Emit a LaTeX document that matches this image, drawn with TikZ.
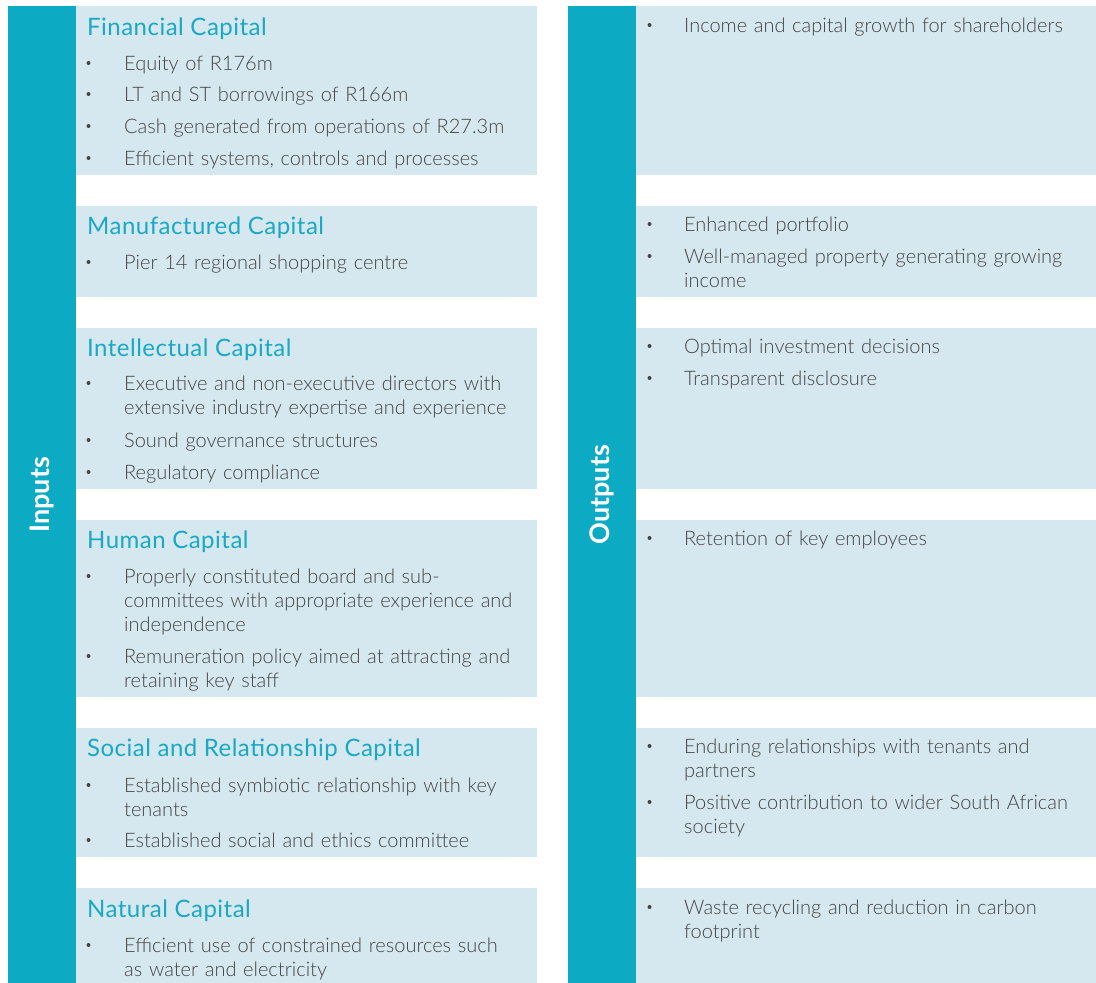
\documentclass[tikz,border=0pt]{standalone}
\usepackage{fontspec}
\setmainfont{Lato}[UprightFont={* Light},BoldFont={* Bold}]
\newfontfamily\headfont{Lato}[LetterSpace=2.0]
\definecolor{band}{HTML}{0DAAC4}
\definecolor{panel}{HTML}{D5E8EF}
\definecolor{head}{HTML}{1BA8C4}
\definecolor{ink}{HTML}{444444}

\begin{document}
\begin{tikzpicture}[x=1pt,y=-1pt,
  text=ink,
  band/.style={fill=band,draw=none,anchor=north west,inner sep=0pt,
    minimum width=68pt,minimum height=977pt},
  bandtext/.style={rotate=90,text=white,font=\bfseries\fontsize{27}{27}\selectfont},
  panel/.style={fill=panel,draw=none,anchor=north west,inner sep=0pt},
  heading/.style={anchor=base west,inner sep=0pt,text=head,
    font=\headfont\fontsize{24}{24}\selectfont},
  item/.style={anchor=base west,inner sep=0pt,text width=420pt,align=left,
    font=\fontsize{20}{24}\selectfont},
  dot/.style={circle,fill=ink,inner sep=0pt,minimum size=4pt}
]
  \useasboundingbox (0,0) rectangle (1096,983);

  % side bands
  \node[band] (inbar) at (8,6) {};
  \node[band] (outbar) at (568,6) {};
  \node[bandtext] (inlabel) at (inbar.center) {Inputs};
  \node[bandtext] (outlabel) at (outbar.center) {Outputs};

  % one row of panels per capital
  \foreach \top/\bot/\name in {6/175/fin,206/297/man,328/489/int,
      520/697/hum,728/857/soc,888/983/nat}{
    \node[panel,minimum width=461pt,minimum height={\bot-\top}]
      (\name-in) at (76,\top) {};
    \node[panel,minimum width=460pt,minimum height={\bot-\top}]
      (\name-out) at (636,\top) {};
  }

  % titles
  \foreach \y/\name/\title in {35/fin/Financial Capital,
      234/man/Manufactured Capital,356/int/Intellectual Capital,
      548/hum/Human Capital,756/soc/Social and Relationship Capital,
      917/nat/Natural Capital}{
    \node[heading] (\name-title) at (87,\y) {\title};
  }

  % input items
  \foreach \y/\txt [count=\i] in {
      70/{Equity of R176m},
      101/{LT and ST borrowings of R166m},
      133/{Cash generated from operations of R27.3m},
      165/{Efficient systems, controls and processes},
      269/{Pier 14 regional shopping centre},
      390/{Executive and non-executive directors with\\extensive industry expertise and experience},
      447/{Sound governance structures},
      479/{Regulatory compliance},
      583/{Properly constituted board and sub-\\committees with appropriate experience and\\independence},
      663/{Remuneration policy aimed at attracting and\\retaining key staff},
      792/{Established symbiotic relationship with key\\tenants},
      847/{Established social and ethics committee},
      952/{Efficient use of constrained resources such\\as water and electricity}}{
    \node[dot] (in-dot\i) at (88.5,\y-7) {};
    \node[item] (in-\i) at (124,\y) {\txt};
  }

  % output items
  \foreach \y/\txt [count=\i] in {
      32/{Income and capital growth for shareholders},
      231/{Enhanced portfolio},
      263/{Well-managed property generating growing\\income},
      353/{Optimal investment decisions},
      385/{Transparent disclosure},
      545/{Retention of key employees},
      753/{Enduring relationships with tenants and\\partners},
      809/{Positive contribution to wider South African\\society},
      914/{Waste recycling and reduction in carbon\\footprint}}{
    \node[dot] (out-dot\i) at (649.5,\y-7) {};
    \node[item] (out-\i) at (684,\y) {\txt};
  }
\end{tikzpicture}
\end{document}
